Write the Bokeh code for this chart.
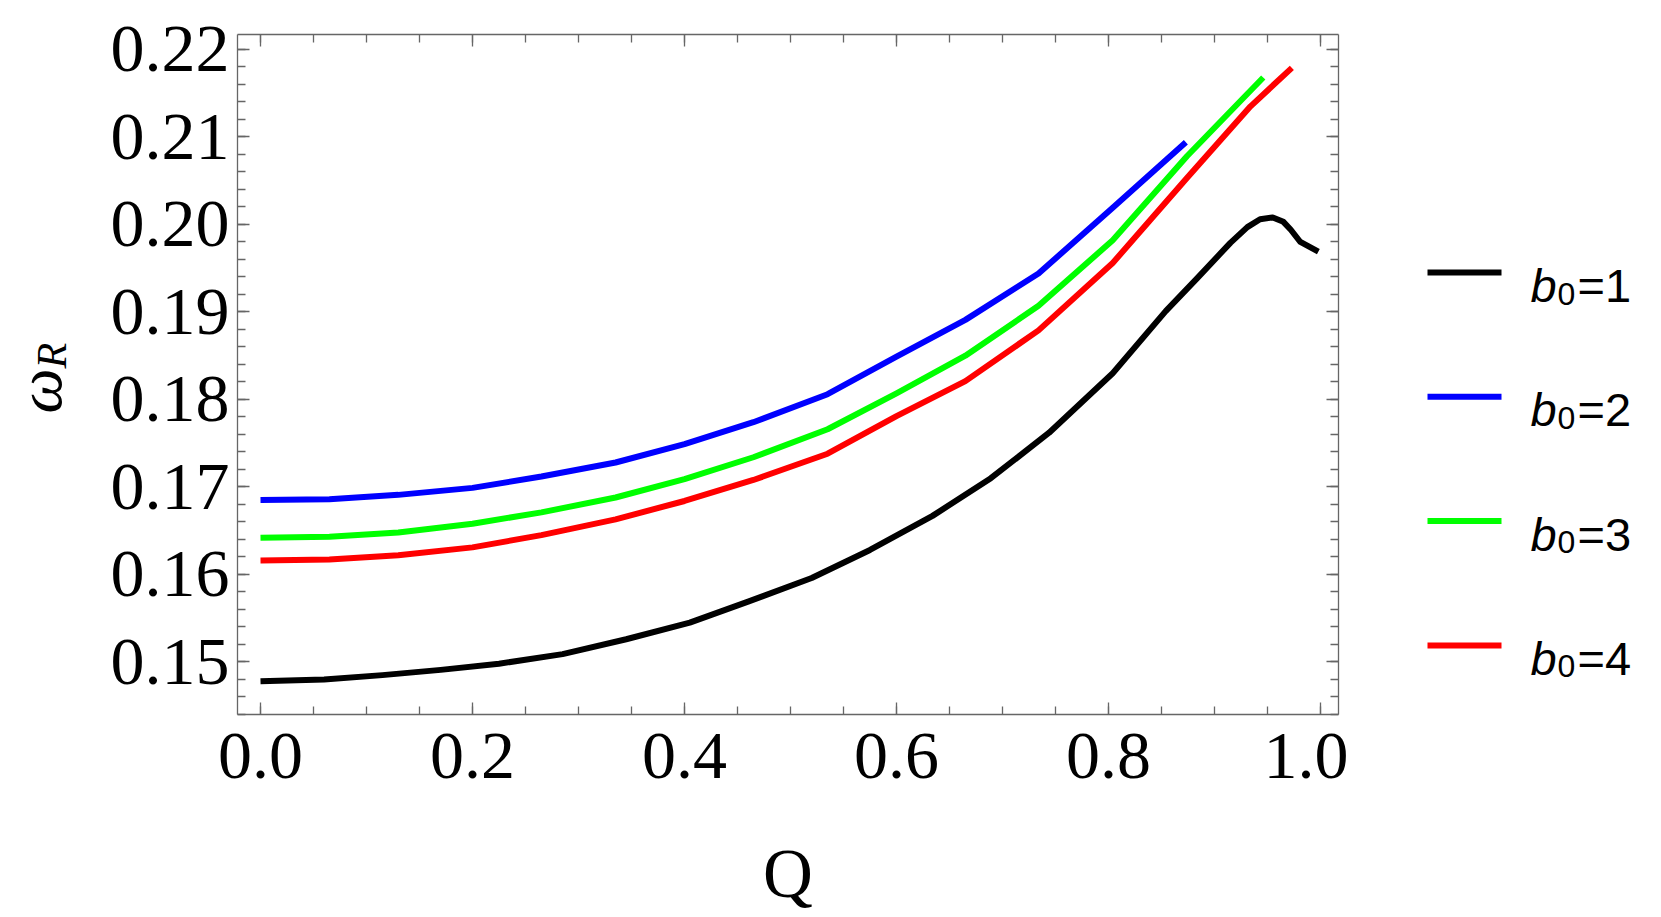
import math
from bokeh.plotting import figure
from bokeh.models import Range1d, LinearAxis, SingleIntervalTicker, NumeralTickFormatter
from bokeh.layouts import row
from bokeh.core.properties import value
from bokeh.embed import file_html
from bokeh.resources import INLINE

# ---------------- data ----------------
q_b1 = [0.0, 0.06, 0.115, 0.17, 0.225, 0.285, 0.345, 0.405, 0.46, 0.52, 0.575, 0.634,
        0.689, 0.744, 0.804, 0.854, 0.884, 0.915, 0.931, 0.943, 0.955, 0.965, 0.972,
        0.981, 0.998]
w_b1 = [0.1478, 0.1480, 0.1485, 0.1491, 0.1498, 0.1509, 0.1526, 0.1545, 0.1569, 0.1596,
        0.1628, 0.1667, 0.1710, 0.1762, 0.1830, 0.1901, 0.1939, 0.1979, 0.1997, 0.2006,
        0.2008, 0.2003, 0.1994, 0.1980, 0.1969]

q_b2 = [0.0, 0.065, 0.13, 0.2, 0.265, 0.335, 0.4, 0.465, 0.535, 0.6, 0.665, 0.734, 0.804, 0.873]
w_b2 = [0.1685, 0.1686, 0.1691, 0.1699, 0.1712, 0.1728, 0.1749, 0.1774, 0.1806, 0.1849,
        0.1891, 0.1944, 0.2019, 0.2094]

q_b3 = [0.0, 0.065, 0.13, 0.2, 0.265, 0.335, 0.4, 0.465, 0.535, 0.6, 0.665, 0.734, 0.804,
        0.874, 0.946]
w_b3 = [0.1642, 0.1643, 0.1648, 0.1658, 0.1671, 0.1688, 0.1709, 0.1734, 0.1766, 0.1807,
        0.1850, 0.1907, 0.1982, 0.2078, 0.2168]

q_b4 = [0.0, 0.065, 0.13, 0.2, 0.265, 0.335, 0.4, 0.465, 0.535, 0.6, 0.665, 0.734, 0.804,
        0.874, 0.934, 0.973]
w_b4 = [0.1616, 0.1617, 0.1622, 0.1631, 0.1645, 0.1663, 0.1684, 0.1708, 0.1738, 0.1781,
        0.1821, 0.1879, 0.1956, 0.2053, 0.2135, 0.2179]

series_q = [q_b1, q_b2, q_b3, q_b4]
series_w = [w_b1, w_b2, w_b3, w_b4]
series_colors = ["#000000", "#0000ff", "#00ff00", "#ff0000"]
legend_values = ["1", "2", "3", "4"]

x_label = "Q"
y_label_main = "ω"
y_label_sub = "R"

# ---------------- layout constants (page pixels) ----------------
H = 916
FRAME_TOP = 34
FRAME_BOTTOM = 714
BORDER_TOP = FRAME_TOP
BORDER_BOTTOM = H - FRAME_BOTTOM
YL_W = 107
MAIN_W = 1241
LEG_W = 305
AXIS_GRAY = "#666666"
SERIF = "Liberation Serif"
SANS = "Liberation Sans"

# ---------------- main figure ----------------
p = figure(width=MAIN_W, height=H, output_backend="svg", toolbar_location=None,
           x_range=Range1d(-0.0217, 1.0170), y_range=Range1d(0.14400, 0.22171),
           min_border_left=130, min_border_right=10, min_border_top=BORDER_TOP,
           min_border_bottom=BORDER_BOTTOM)
p.outline_line_color = None
p.xgrid.visible = False
p.ygrid.visible = False
p.background_fill_color = "white"
p.border_fill_color = "white"

xt = SingleIntervalTicker(interval=0.2, num_minor_ticks=4)
yt = SingleIntervalTicker(interval=0.01, num_minor_ticks=5)


def style_axis(ax, show_labels=True):
    ax.axis_line_color = AXIS_GRAY
    ax.axis_line_width = 1.3
    ax.major_tick_line_color = AXIS_GRAY
    ax.minor_tick_line_color = AXIS_GRAY
    ax.major_tick_line_width = 1.3
    ax.minor_tick_line_width = 1.3
    ax.major_tick_in = 12
    ax.major_tick_out = 0
    ax.minor_tick_in = 8
    ax.minor_tick_out = 0
    if show_labels:
        ax.major_label_text_font = SERIF
        ax.major_label_text_font_size = "68px"
        ax.major_label_text_color = "black"
    else:
        ax.major_label_text_font_size = "0px"
        ax.major_label_standoff = 0


xa = p.xaxis[0]
xa.ticker = xt
xa.formatter = NumeralTickFormatter(format="0.0")
style_axis(xa)
xa.major_label_standoff = 19
xa.axis_label = x_label
xa.axis_label_text_font = SERIF
xa.axis_label_text_font_style = "normal"
xa.axis_label_text_font_size = "69px"
xa.axis_label_text_color = "black"
xa.axis_label_standoff = 55

ya = p.yaxis[0]
ya.ticker = yt
ya.formatter = NumeralTickFormatter(format="0.00")
style_axis(ya)
ya.major_label_standoff = 8

top_ax = LinearAxis(ticker=xt)
style_axis(top_ax, show_labels=False)
p.add_layout(top_ax, "above")
right_ax = LinearAxis(ticker=yt)
style_axis(right_ax, show_labels=False)
p.add_layout(right_ax, "right")

for q, w, c in zip(series_q, series_w, series_colors):
    p.line(q, w, line_color=c, line_width=6, line_join="round", line_cap="butt")


def aux_figure(x0, width):
    # data coordinates: x = page x, y = -page y
    f = figure(width=width, height=H, output_backend="svg", toolbar_location=None,
               x_range=Range1d(x0, x0 + width),
               y_range=Range1d(-FRAME_BOTTOM, -FRAME_TOP),
               x_axis_type=None, y_axis_type=None,
               min_border_left=0, min_border_right=0,
               min_border_top=BORDER_TOP, min_border_bottom=BORDER_BOTTOM)
    f.outline_line_color = None
    f.xgrid.visible = False
    f.ygrid.visible = False
    return f


# ---------------- y-label figure ----------------
yl = aux_figure(0, YL_W)
yl.text(x=[39], y=[-413], text=[y_label_main], angle=math.pi / 2,
        text_font=value(SERIF), text_font_style="italic", text_font_size="64px",
        text_align="left", text_baseline="alphabetic", text_color="black")
yl.text(x=[51], y=[-368], text=[y_label_sub], angle=math.pi / 2,
        text_font=value(SERIF), text_font_style="italic", text_font_size="42px",
        text_align="left", text_baseline="alphabetic", text_color="black")

# ---------------- legend figure ----------------
lg = aux_figure(YL_W + MAIN_W, LEG_W)
row_top = 272
row_step = 124.3
for i, (c, v) in enumerate(zip(series_colors, legend_values)):
    yy = row_top + i * row_step
    lg.line([1427, 1501], [-yy, -yy], line_color=c, line_width=6, line_cap="butt")
    lg.text(x=[1530], y=[-(yy + 13)], text=["b"], text_font=value(SANS),
            text_font_style="italic", text_font_size="47px",
            text_align="left", text_baseline="alphabetic", text_color="black")
    lg.text(x=[1557], y=[-(yy + 21)], text=["0"], text_font=value(SANS),
            text_font_size="32px", text_align="left", text_baseline="alphabetic",
            text_color="black")
    lg.text(x=[1577], y=[-(yy + 13)], text=["=" + v], text_font=value(SANS),
            text_font_size="47px", text_align="left", text_baseline="alphabetic",
            text_color="black")

layout = row(yl, p, lg)
open("out.html", "w").write(file_html(layout, INLINE))
